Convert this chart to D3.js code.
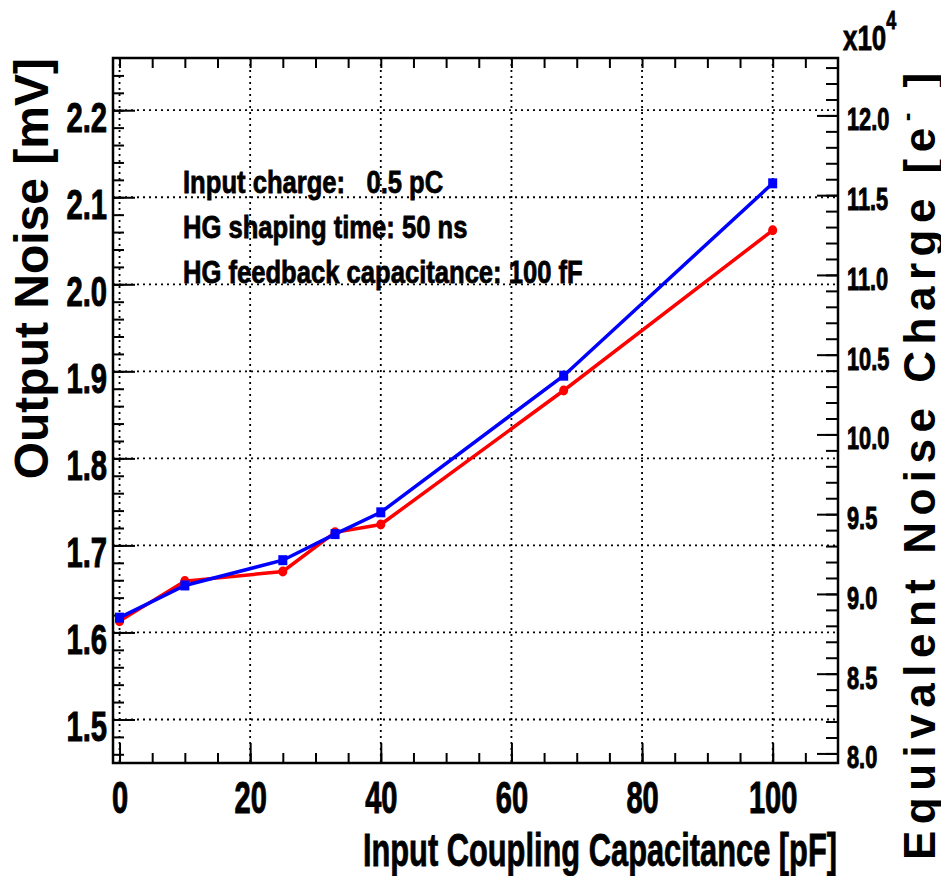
<!DOCTYPE html>
<html>
<head>
<meta charset="utf-8">
<script src="https://cdn.jsdelivr.net/npm/d3@7"></script>
<style>
  body { margin: 0; background: #fff; }
  svg { display: block; font-family: "Liberation Sans", Arial, Helvetica, sans-serif; font-weight: bold; }
</style>
</head>
<body>
<div id="chart"></div>
<script>
// Input coupling capacitance [pF]
const capacitance = [0, 10, 25, 33, 40, 68, 100];
// Output noise [mV], red (circles) and blue (squares)
const redNoise = [1.613, 1.659, 1.670, 1.715, 1.724, 1.878, 2.062];
const blueNoise = [1.617, 1.654, 1.683, 1.713, 1.738, 1.895, 2.116];

const xTicks = [0, 20, 40, 60, 80, 100];
const yLeftTicks = [1.5, 1.6, 1.7, 1.8, 1.9, 2.0, 2.1, 2.2];
const yRightTicks = [8.0, 8.5, 9.0, 9.5, 10.0, 10.5, 11.0, 11.5, 12.0];
const notes = ["Input charge:   0.5 pC", "HG shaping time: 50 ns", "HG feedback capacitance: 100 fF"];

const W = 941, H = 876;
const frame = { left: 113, right: 838, top: 58, bottom: 763 };

const svg = d3.select("#chart").append("svg")
  .attr("width", W)
  .attr("height", H);

// scales
const x = d3.scaleLinear().domain([-1, 110]).range([frame.left, frame.right]);
const yL = d3.scaleLinear().domain([1.45, 2.26]).range([frame.bottom, frame.top]);
const yR = d3.scaleLinear().domain([7.94, 12.36]).range([frame.bottom, frame.top]);

const minorX = d3.range(0, 110, 5);
const minorYL = d3.range(1.46, 2.26, 0.02);
const minorYR = d3.range(7.94 + 0.06, 12.36, 0.1);

// dotted grid
const grid = svg.append("g")
  .attr("stroke", "#000")
  .attr("stroke-width", 1.8)
  .attr("stroke-dasharray", "2,4");
grid.selectAll(".gx").data(xTicks).enter().append("line")
  .attr("x1", d => x(d)).attr("x2", d => x(d))
  .attr("y1", frame.top).attr("y2", frame.bottom);
grid.selectAll(".gy").data(yLeftTicks).enter().append("line")
  .attr("x1", frame.left).attr("x2", frame.right)
  .attr("y1", d => yL(d)).attr("y2", d => yL(d));

// heavier, narrower text like the condensed bold font of the original
function heavy(sel, w) {
  sel.attr("fill", "#000").attr("stroke", "#000").attr("stroke-width", w);
}

function styleLabels(g, size, sx, dy, xoff) {
  g.selectAll("text")
    .attr("font-size", size)
    .attr("font-weight", "bold")
    .attr("dy", dy)
    .attr("transform", `scale(${sx},1)`)
    .attr("x", function() { return xoff / sx; })
    .call(heavy, 1);
}

function cleanAxis(g, width) {
  g.select(".domain").remove();
  g.selectAll("line").attr("stroke", "#000").attr("stroke-width", width);
}

// left axis (major + minor), ticks pointing inward
const leftAx = svg.append("g")
  .attr("transform", `translate(${frame.left},0)`)
  .call(d3.axisLeft(yL).tickValues(yLeftTicks).tickSize(-22).tickPadding(6).tickFormat(d3.format(".1f")));
cleanAxis(leftAx, 2);
styleLabels(leftAx, 43, 0.68, "0.49em", -6);
svg.append("g")
  .attr("transform", `translate(${frame.left},0)`)
  .call(d3.axisLeft(yL).tickValues(minorYL).tickSize(-11).tickFormat(""))
  .call(g => cleanAxis(g, 2));

// right axis
const rightAx = svg.append("g")
  .attr("transform", `translate(${frame.right},0)`)
  .call(d3.axisRight(yR).tickValues(yRightTicks).tickSize(-21).tickPadding(9).tickFormat(d3.format(".1f")));
cleanAxis(rightAx, 2);
rightAx.selectAll("text").attr("text-anchor", "start");
styleLabels(rightAx, 32, 0.68, "0.45em", 9);
svg.append("g")
  .attr("transform", `translate(${frame.right},0)`)
  .call(d3.axisRight(yR).tickValues(minorYR).tickSize(-12).tickFormat(""))
  .call(g => cleanAxis(g, 2));

// bottom axis
const bottomAx = svg.append("g")
  .attr("transform", `translate(0,${frame.bottom})`)
  .call(d3.axisBottom(x).tickValues(xTicks).tickSize(-20).tickPadding(19).tickFormat(d3.format("d")));
cleanAxis(bottomAx, 2);
bottomAx.selectAll("text")
  .attr("font-size", 44)
  .attr("font-weight", "bold")
  .attr("transform", "scale(0.66,1)")
  .attr("x", 0)
  .call(heavy, 1);
svg.append("g")
  .attr("transform", `translate(0,${frame.bottom})`)
  .call(d3.axisBottom(x).tickValues(minorX).tickSize(-10).tickFormat(""))
  .call(g => cleanAxis(g, 2));

// top axis (ticks only)
svg.append("g")
  .attr("transform", `translate(0,${frame.top})`)
  .call(d3.axisTop(x).tickValues(minorX).tickSize(-10).tickFormat(""))
  .call(g => cleanAxis(g, 2));

// frame
svg.append("rect")
  .attr("x", frame.left).attr("y", frame.top)
  .attr("width", frame.right - frame.left)
  .attr("height", frame.bottom - frame.top)
  .attr("fill", "none")
  .attr("stroke", "#000")
  .attr("stroke-width", 2.5);

// series
const line = d3.line().x(d => x(d[0])).y(d => yL(d[1]));
const redPts = capacitance.map((c, i) => [c, redNoise[i]]);
const bluePts = capacitance.map((c, i) => [c, blueNoise[i]]);

svg.append("path").datum(redPts)
  .attr("d", line).attr("fill", "none")
  .attr("stroke", "#ff0000").attr("stroke-width", 3.5);
svg.selectAll(".red-pt").data(redPts).enter().append("ellipse")
  .attr("cx", d => x(d[0])).attr("cy", d => yL(d[1]))
  .attr("rx", 4.5).attr("ry", 5)
  .attr("fill", "#ff0000");

svg.append("path").datum(bluePts)
  .attr("d", line).attr("fill", "none")
  .attr("stroke", "#0000ff").attr("stroke-width", 3.5);
svg.selectAll(".blue-pt").data(bluePts).enter().append("rect")
  .attr("x", d => x(d[0]) - 4.5).attr("y", d => yL(d[1]) - 5)
  .attr("width", 9).attr("height", 10)
  .attr("fill", "#0000ff");

// notes
svg.selectAll(".note").data(notes).enter().append("text")
  .attr("transform", (d, i) => `translate(183,${193 + i * 45}) scale(0.8,1)`)
  .attr("font-size", 32)
  .style("white-space", "pre")
  .text(d => d)
  .call(heavy, 0.8);

// x10^4 exponent
const expo = svg.append("text")
  .attr("transform", "translate(843,50) scale(0.72,1)")
  .attr("font-size", 36)
  .call(heavy, 0.8);
expo.append("tspan").text("x10");
expo.append("tspan").attr("font-size", 25).attr("dy", -21).text("4");

// axis titles
svg.append("text")
  .attr("transform", `translate(48,58) rotate(-90)`)
  .attr("text-anchor", "end")
  .attr("font-size", 48)
  .text("Output Noise [mV]");

svg.append("text")
  .attr("transform", `translate(837,866) scale(0.67,1)`)
  .attr("text-anchor", "end")
  .attr("font-size", 46)
  .text("Input Coupling Capacitance [pF]")
  .call(heavy, 0.8);

const rTitle = svg.append("text")
  .attr("transform", `translate(935,860) rotate(-90)`)
  .attr("font-size", 44)
  .attr("letter-spacing", 6.5)
  .style("white-space", "pre");
rTitle.append("tspan").text("Equivalent Noise Charge [e");
rTitle.append("tspan").attr("font-size", 26).attr("dy", -20).text("-");
rTitle.append("tspan").attr("dy", 20).text(" ]");
</script>
</body>
</html>
